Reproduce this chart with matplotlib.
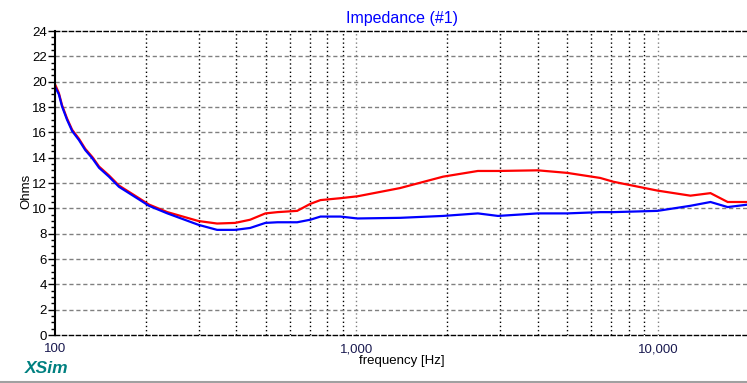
import matplotlib
matplotlib.use("Agg")
import matplotlib.pyplot as plt
from matplotlib.ticker import FixedLocator, MultipleLocator, NullFormatter

plt.rcParams['font.family'] = ['Liberation Sans', 'DejaVu Sans']

freq = [100, 103, 105.5, 109.6, 114, 120, 126, 133, 140, 151, 163, 176,
        190, 205, 236, 299, 345, 396, 444,
        499, 547, 636, 703, 760, 885, 1008, 1396, 1939, 2530, 2951, 4000,
        5000, 6440, 7120, 9980, 12830, 14960, 17060, 20000]
z_red = [19.8, 19.1, 18.15, 17.1, 16.2, 15.5, 14.7, 14.05, 13.3, 12.6,
         11.8, 11.3, 10.8, 10.3, 9.7, 9.0, 8.8,
         8.85, 9.1, 9.6, 9.7, 9.8, 10.35, 10.65, 10.8, 10.95, 11.6, 12.5,
         12.95, 12.95, 13.0, 12.8, 12.4, 12.1, 11.4, 11.0, 11.2, 10.5, 10.5]
z_blue = [19.6, 19.0, 18.05, 17.0, 16.1, 15.4, 14.6, 13.95, 13.2, 12.5,
          11.7, 11.2, 10.7, 10.2, 9.6, 8.7, 8.3,
          8.3, 8.45, 8.85, 8.9, 8.9, 9.1, 9.35, 9.35, 9.2, 9.25, 9.4,
          9.6, 9.4, 9.6, 9.6, 9.7, 9.7, 9.8, 10.2, 10.5, 10.1, 10.3]

fig = plt.figure(figsize=(7.47, 3.83), dpi=100)
ax_w = 1 - 55/747 + 0.002
ax = fig.add_axes([55/747, 48/383, ax_w, 304/383])

ax.plot(freq, z_red, color='#ff0000', lw=1.6, solid_joinstyle='miter')
ax.plot(freq, z_blue, color='#0000ff', lw=1.6, solid_joinstyle='miter')

ax.set_xscale('log')
ax.set_xlim(100, 20000)
ax.set_ylim(0, 24)

major_x = [100, 1000, 10000]
minor_x = [f * d for d in (100, 1000, 10000) for f in range(2, 10) if f * d < 20000]
ax.xaxis.set_major_locator(FixedLocator(major_x))
ax.xaxis.set_minor_locator(FixedLocator(minor_x))
ax.set_xticklabels(['100', '1,000', '10,000'])
ax.xaxis.set_minor_formatter(NullFormatter())
ax.tick_params(axis='x', which='both', length=0, pad=6, labelsize=9.5,
               labelcolor='#1a1a50')

ax.yaxis.set_major_locator(MultipleLocator(2))
ax.yaxis.set_minor_locator(MultipleLocator(0.5))
ax.tick_params(axis='y', which='major', length=5, width=1, labelsize=9.5, pad=1)
ax.tick_params(axis='y', which='minor', length=3, width=1)

for v in minor_x:
    ax.axvline(v, color='black', lw=1.0, ls=(0, (1, 2)), zorder=0.5)
for v in major_x[1:]:
    ax.axvline(v, color='#808080', lw=1.0, ls=(0, (1, 2)), zorder=0.5)
for v in range(2, 24, 2):
    ax.axhline(v, color='#808080', lw=1.0, ls=(0, (3, 2)), zorder=0.5)

ax.spines['right'].set_visible(False)
ax.spines['left'].set_linewidth(1.5)
for s in ('top', 'bottom'):
    ax.spines[s].set_linestyle((0, (3, 2)))
    ax.spines[s].set_linewidth(1.0)

ax.set_title('Impedance (#1)', color='#0000ff', fontsize=11.5, pad=6)
ax.set_ylabel('Ohms', fontsize=9.5)
ax.yaxis.set_label_coords(-23/(747*ax_w), 0.474)
ax.set_xlabel('frequency [Hz]', fontsize=9.5, labelpad=0)

fig.text(25/747, 1 - 373/383, 'XSim', color='#008080', fontsize=12.5,
         fontstyle='italic', fontweight='bold', va='baseline', ha='left')
fig.add_artist(plt.Line2D([0, 1], [1.5/383, 1.5/383], color='#a0a0a0', lw=1.5))

fig.savefig('out.png', dpi=100)
